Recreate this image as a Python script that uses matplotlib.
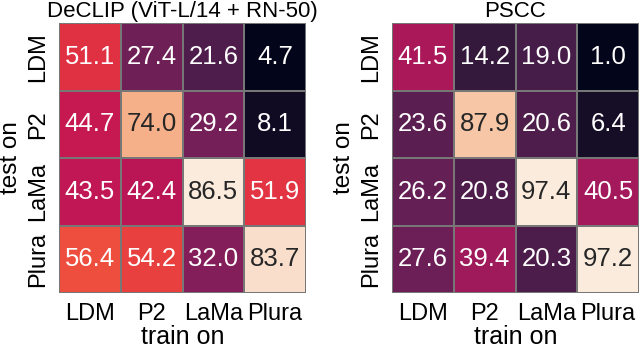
import matplotlib
matplotlib.use("Agg")
import matplotlib.pyplot as plt
import numpy as np
import seaborn as sns

plt.rcParams["font.family"] = ["Liberation Sans", "DejaVu Sans"]

datasets = ["LDM", "P2", "LaMa", "Plura"]

# rows: test on, cols: train on
declip_scores = [
  [51.1, 27.4, 21.6, 4.7],
  [44.7, 74.0, 29.2, 8.1],
  [43.5, 42.4, 86.5, 51.9],
  [56.4, 54.2, 32.0, 83.7],
]
pscc_scores = [
  [41.5, 14.2, 19.0, 1.0],
  [23.6, 87.9, 20.6, 6.4],
  [26.2, 20.8, 97.4, 40.5],
  [27.6, 39.4, 20.3, 97.2],
]
titles = ["DeCLIP (ViT-L/14 + RN-50)", "PSCC"]

fig = plt.figure(figsize=(6.4, 3.49), dpi=100)
ax_left = fig.add_axes([59 / 640, 1 - 293 / 349, 247 / 640, 270 / 349])
ax_right = fig.add_axes([392 / 640, 1 - 293 / 349, 247 / 640, 270 / 349])

for ax, scores, title in zip([ax_left, ax_right],
                             [declip_scores, pscc_scores], titles):
  # colour range follows each matrix's own min / max (seaborn default)
  sns.heatmap(np.array(scores), ax=ax, cmap="rocket",
              annot=True, fmt=".1f", cbar=False, square=False,
              linewidths=0.1, linecolor="#777777",
              annot_kws={"fontsize": 18.5},
              xticklabels=datasets, yticklabels=datasets)
  ax.set_title(title, fontsize=16, pad=4)
  ax.set_xlabel("train on", fontsize=18, labelpad=0)
  ax.set_ylabel("test on", fontsize=17.5, labelpad=4)
  ax.tick_params(axis="both", length=0, labelsize=17, pad=7)
  ax.set_yticklabels(datasets, rotation=90, va="center")
  ax.set_xticklabels(datasets, rotation=0)

fig.savefig("out.png", dpi=100)
